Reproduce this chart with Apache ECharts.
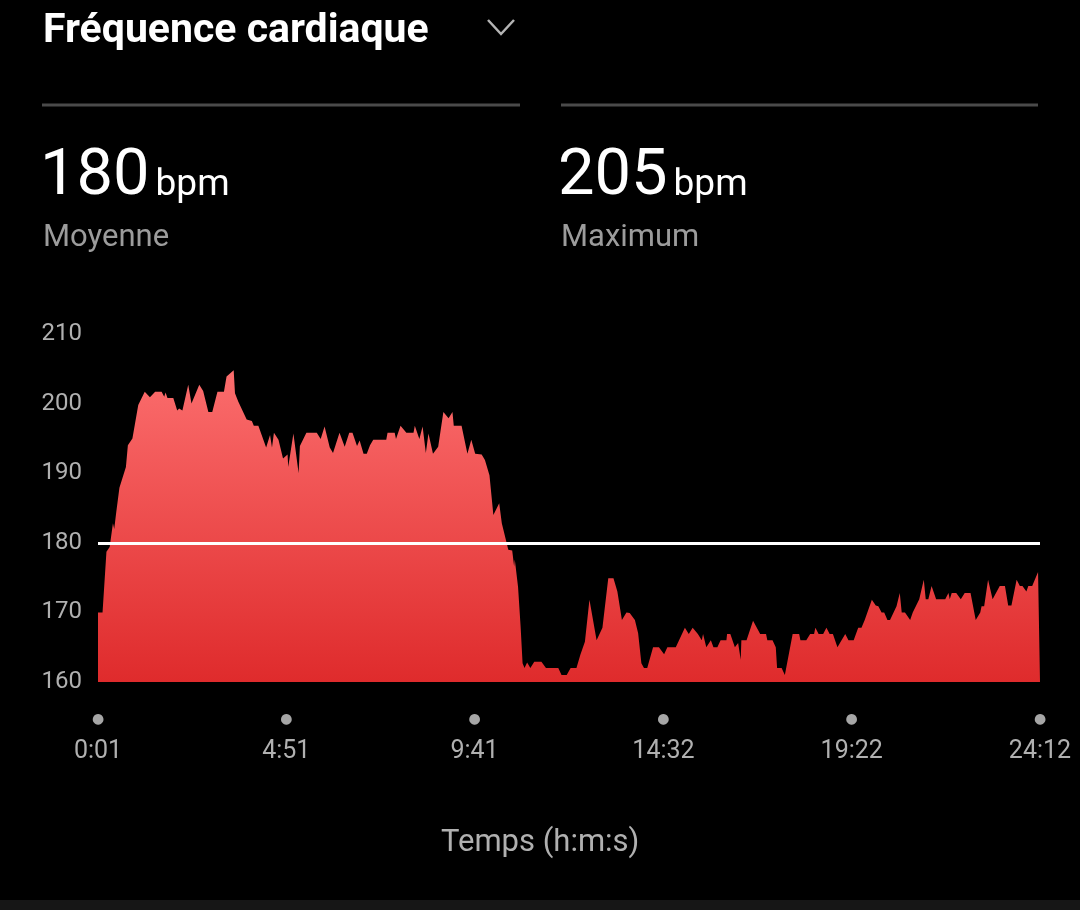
<!DOCTYPE html>
<html>
<head>
<meta charset="utf-8">
<script src="https://cdn.jsdelivr.net/npm/echarts@6.0.0/dist/echarts.min.js"></script>
<style>
  html, body { margin: 0; padding: 0; background: #000; }
  #chart { width: 1080px; height: 910px; }
</style>
</head>
<body>
<div id="chart"></div>
<script>
// temps écoulé (s) et fréquence cardiaque (bpm)
var seconds = [1, 8, 14, 19, 24, 26, 29, 34, 37, 44, 47, 54, 63, 73, 81, 89, 99, 103, 105, 108,
  117, 123, 126, 131, 140, 145, 157, 163, 171, 177, 185, 195, 199, 210, 212, 217, 230, 238, 241, 248,
  260, 266, 269, 272, 279, 286, 289, 293, 294, 302, 310, 312, 322, 338, 344, 350, 358, 363, 373, 381,
  388, 393, 400, 404, 410, 415, 420, 425, 445, 447, 458, 460, 467, 476, 487, 489, 496, 501, 506, 510,
  517, 525, 533, 541, 547, 549, 561, 570, 576, 582, 592, 597, 604, 610, 619, 623, 626, 633, 639, 642,
  643, 648, 652, 655, 658, 662, 667, 673, 684, 691, 710, 715, 723, 729, 738, 744, 751, 758, 769, 778,
  787, 795, 801, 808, 815, 820, 828, 833, 838, 842, 847, 856, 865, 873, 878, 891, 905, 911, 917, 925,
  931, 933, 938, 945, 949, 955, 960, 969, 970, 975, 982, 987, 991, 992, 1000, 1010, 1021, 1030, 1032, 1040,
  1045, 1047, 1054, 1059, 1071, 1081, 1083, 1092, 1098, 1104, 1106, 1111, 1118, 1123, 1128, 1133, 1140, 1152, 1157, 1165,
  1172, 1177, 1182, 1193, 1199, 1203, 1208, 1212, 1217, 1221, 1231, 1236, 1239, 1244, 1252, 1256, 1266, 1273, 1276, 1280,
  1285, 1292, 1306, 1311, 1313, 1316, 1323, 1330, 1336, 1345, 1353, 1360, 1362, 1366, 1372, 1379, 1390, 1398, 1403, 1408,
  1416, 1421, 1425, 1431, 1434, 1440, 1444, 1449, 1452];
var bpm = [170, 170, 178.7, 179.4, 182.8, 182, 184.3, 187.9, 187.9, 190.9, 194, 195, 199.8, 201.7, 200.9, 201.7, 201.7, 201, 201.6, 200.8,
  200.8, 199, 199.3, 199, 202.7, 200, 202.7, 201.8, 198.8, 198.8, 201.7, 201.7, 203.9, 204.8, 201.5, 200.3, 197.7, 197.5, 196.8, 196.8,
  193.7, 195.5, 193.7, 195.8, 194.8, 192.1, 191.9, 192.7, 190.9, 195.7, 190, 193.9, 195.8, 195.8, 194.9, 196.7, 193.7, 192.9, 195.8, 193.8,
  195.8, 195.8, 193.9, 194.7, 192.8, 192.8, 194, 194.8, 194.8, 195.8, 195.8, 194.9, 196.8, 195.8, 195.8, 196.8, 194.9, 196.7, 192.9, 195.7,
  192.8, 193.8, 198.8, 197.9, 198.8, 196.8, 196.8, 192.8, 194.8, 192.8, 192.7, 191.9, 189.7, 184, 185.7, 182.8, 182.8, 179, 178.9, 176.6,
  177.6, 173.7, 167.9, 162.7, 162, 162.8, 162, 162.9, 162.9, 162, 162, 161, 161, 162, 162, 163.9, 165.8, 171.8, 166, 167.8,
  174.9, 174.9, 173, 168.9, 170, 169.9, 168.9, 167, 162.7, 162, 162, 165, 165, 164, 165, 165, 167.8, 166.9, 167.8, 166.9,
  166, 166.9, 165, 166, 165, 165, 166, 166, 166.9, 166.9, 165, 165.6, 163.2, 166, 166, 168.8, 166.9, 166.9, 166, 166,
  165, 162, 162, 161, 166.9, 166.9, 166, 166, 166.9, 166.9, 167.8, 166.9, 166.9, 167.8, 166.9, 166.9, 165, 166.9, 166, 166,
  167.8, 167.8, 168.9, 171.8, 171, 170.9, 170, 170, 168.9, 168.9, 170.9, 172.8, 170, 170, 168.9, 170, 171.9, 174.7, 171.9, 171.9,
  173.8, 171.9, 171.9, 172.8, 171.9, 172.8, 172.8, 171.9, 172.8, 172.8, 168.9, 170, 170.9, 170.9, 174.7, 171.9, 173.8, 173.8, 171, 171,
  174.7, 173.8, 173.8, 173, 173.8, 173.8, 174.7, 175.8, 176];

var tickSeconds = [1, 291, 581, 872, 1162, 1452];
var tickLabels = ['0:01', '4:51', '9:41', '14:32', '19:22', '24:12'];
var average = 180;
var maximum = 205;

var chart = echarts.init(document.getElementById('chart'));
var points = seconds.map(function (s, i) { return [s, bpm[i]]; });

var bigNumber = {
  n: { fontSize: 65, fill: '#fff', fontFamily: 'Roboto' },
  u: { fontSize: 37, fill: '#fff', fontFamily: 'Roboto', padding: [16, 0, 0, 6] }
};

var option = {
  backgroundColor: '#000',
  animation: false,
  grid: { left: 98, right: 40, top: 334, bottom: 228 },
  xAxis: {
    type: 'value',
    min: 1,
    max: 1452,
    axisLine: { show: false },
    axisTick: { show: false },
    splitLine: { show: false },
    axisLabel: {
      customValues: tickSeconds,
      margin: 28,
      formatter: function (v) {
        var idx = tickSeconds.indexOf(v);
        return '{dot|●}\n{t|' + (idx >= 0 ? tickLabels[idx] : '') + '}';
      },
      rich: {
        dot: { fontSize: 14, color: '#a6a6a6', lineHeight: 18, fontFamily: 'DejaVu Sans' },
        t: { fontSize: 25, color: '#b0b0b0', fontFamily: 'Roboto', lineHeight: 28, padding: [20, 0, 0, 0] }
      }
    }
  },
  yAxis: {
    type: 'value',
    min: 160,
    max: 210,
    interval: 10,
    axisLine: { show: false },
    axisTick: { show: false },
    splitLine: { show: false },
    axisLabel: { color: '#b0b0b0', fontSize: 24, fontFamily: 'Roboto', margin: 16 }
  },
  series: [{
    type: 'line',
    data: points,
    showSymbol: false,
    lineStyle: { width: 0 },
    areaStyle: {
      opacity: 1,
      color: new echarts.graphic.LinearGradient(0, 0, 0, 1, [
        { offset: 0, color: '#fb6d6d' },
        { offset: 1, color: '#df2b2c' }
      ])
    },
    markLine: {
      silent: true,
      symbol: 'none',
      label: { show: false },
      lineStyle: { color: '#ffffff', width: 3, type: 'solid' },
      data: [{ yAxis: average }]
    }
  }],
  graphic: [
    { type: 'text', left: 43, top: 11, style: { text: 'Fréquence cardiaque', fill: '#fff', font: 'bold 41px Roboto' } },
    { type: 'polyline', shape: { points: [[488, 20], [501, 34], [514, 20]] }, style: { stroke: '#b4b4b4', lineWidth: 2.5, fill: null } },
    { type: 'line', shape: { x1: 42, y1: 105, x2: 520, y2: 105 }, style: { stroke: '#4a4a4a', lineWidth: 3 } },
    { type: 'line', shape: { x1: 561, y1: 105, x2: 1038, y2: 105 }, style: { stroke: '#4a4a4a', lineWidth: 3 } },
    { type: 'text', left: 40, top: 145, style: { text: '{n|' + average + '}{u|bpm}', rich: bigNumber } },
    { type: 'text', left: 43, top: 223, style: { text: 'Moyenne', fill: '#9c9c9c', font: '31px Roboto' } },
    { type: 'text', left: 558, top: 145, style: { text: '{n|' + maximum + '}{u|bpm}', rich: bigNumber } },
    { type: 'text', left: 561, top: 223, style: { text: 'Maximum', fill: '#9c9c9c', font: '31px Roboto' } },
    { type: 'text', left: 441, top: 828, style: { text: 'Temps (h:m:s)', fill: '#b0b0b0', font: '31px Roboto' } },
    { type: 'rect', shape: { x: 0, y: 900, width: 1080, height: 10 }, style: { fill: '#161616' } }
  ]
};

chart.setOption(option);
</script>
</body>
</html>
